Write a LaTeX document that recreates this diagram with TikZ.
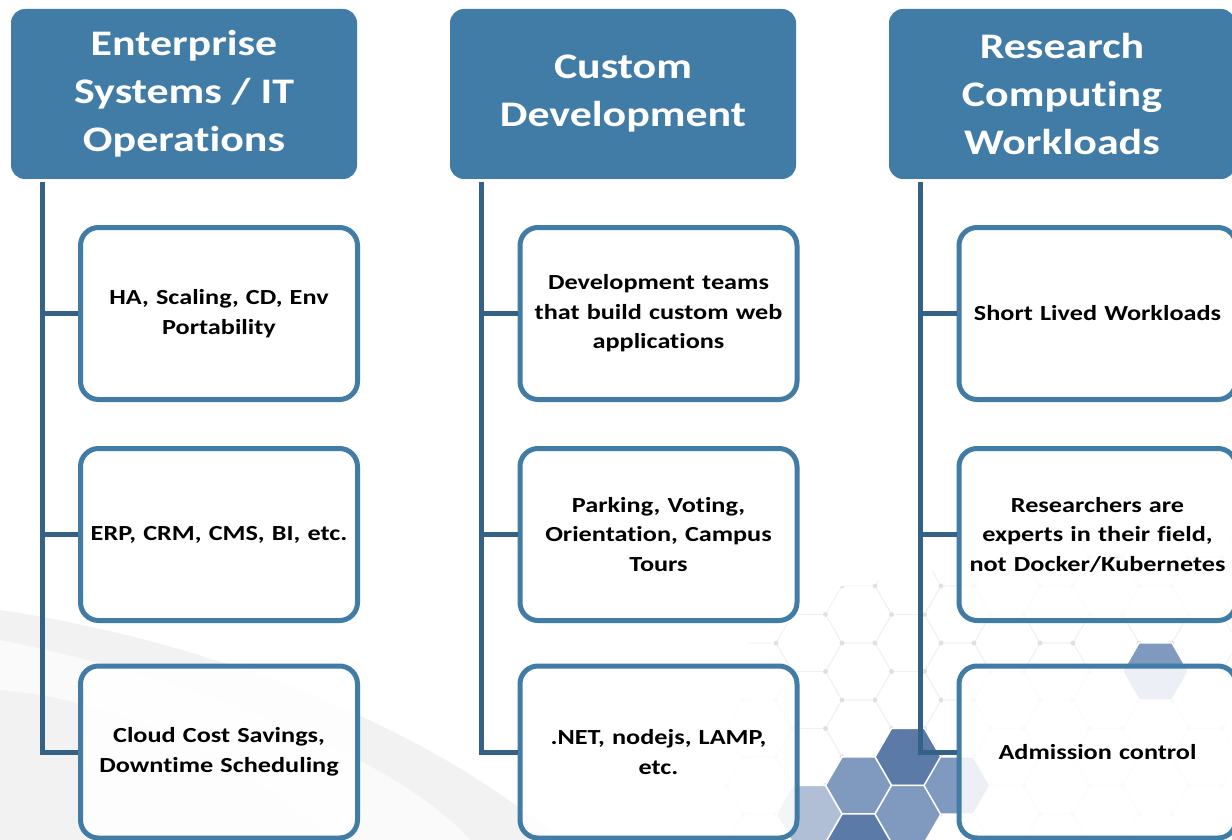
\documentclass[tikz,border=0pt]{standalone}
\usepackage{fontspec}
\setmainfont{Carlito}[FakeStretch=1.22, Ligatures=NoCommon]

\definecolor{headblue}{RGB}{65,124,166}
\definecolor{lineblue}{RGB}{52,98,135}
\definecolor{hexdark}{RGB}{92,122,168}
\definecolor{hexmid}{RGB}{128,153,190}
\definecolor{hexlight}{RGB}{176,191,214}

\tikzset{
  head/.style={fill=headblue, rounded corners=14pt, minimum width=346pt, minimum height=170pt,
    text=white, align=center, font=\bfseries\fontsize{36}{48}\selectfont},
  item/.style={draw=headblue, line width=5pt, fill=white, fill opacity=0.85, text opacity=1,
    rounded corners=18pt, minimum width=277pt, minimum height=172pt, text width=270pt,
    align=center, font=\bfseries\fontsize{21.5}{29.5}\selectfont},
  branch/.style={draw=lineblue, line width=5pt},
  hexline/.style={draw=black!6, line width=0.7pt},
}
% flat-top hexagon around the current point
\newcommand\hexcell{+(0:33) -- +(60:33) -- +(120:33) -- +(180:33) -- +(240:33) -- +(300:33) -- cycle}

\begin{document}
\begin{tikzpicture}[x=1pt, y=-1pt]
	\useasboundingbox (0,0) rectangle (1232,840);
	\fill[white] (0,0) rectangle (1232,840);

	% grey sweep, lower left
	\fill[black!5] (0,610) .. controls (200,640) and (420,720) .. (560,840) -- (0,840) -- cycle;
	\fill[black!2] (0,640) .. controls (200,680) and (400,760) .. (470,840) -- (330,840) .. controls (250,760) and (120,700) .. (0,690) -- cycle;

	% honeycomb, lower right
	\begin{scope}
		\clip (700,840) -- (760,600) -- (1000,560) -- (1232,520) -- (1232,840) -- cycle;
		\foreach \i in {-3,...,6} {
			\foreach \j in {-3,...,3} {
				\path[hexline] (908+49.5*\i, 757-28.5*\i+57*\j) \hexcell;
				\foreach \a in {0,60,...,300}
					\fill[black!12] (908+49.5*\i, 757-28.5*\i+57*\j) ++(\a:33) circle (2.2pt);
			}
		}
	\end{scope}
	\foreach \cx/\cy/\col in {908/757/hexdark, 858.5/785.5/hexmid, 858.5/842.5/hexdark,
		809/814/hexlight, 908/814/hexmid, 957/785.5/hexmid, 1155.5/671.5/hexmid}
		\path[fill=\col, draw=white, line width=1.5pt] (\cx,\cy) \hexcell;

	% column headers
	\node[head] (h1) at (184,94) {Enterprise\\Systems / IT\\Operations};
	\node[head] (h2) at (623,94) {Custom\\Development};
	\node[head] (h3) at (1062,94) {Research\\Computing\\Workloads};

	% items
	\node[item] (a1) at (219,313.5) {HA, Scaling, CD, Env\\Portability};
	\node[item] (a2) at (219,534.5) {ERP, CRM, CMS, BI, etc.};
	\node[item] (a3) at (219,752) {Cloud Cost Savings,\\Downtime Scheduling};
	\node[item] (b1) at (658.5,313.5) {Development teams\\that build custom web\\applications};
	\node[item] (b2) at (658.5,534.5) {Parking, Voting,\\Orientation, Campus\\Tours};
	\node[item] (b3) at (658.5,752) {.NET, nodejs, LAMP,\\etc.};
	\node[item] (c1) at (1097.5,313.5) {Short Lived Workloads};
	\node[item] (c2) at (1097.5,534.5) {Researchers are\\experts in their field,\\not Docker/Kubernetes};
	\node[item] (c3) at (1097.5,752) {Admission control};

	% tree lines
	\foreach \h/\c in {h1/a, h2/b, h3/c} {
		\foreach \k in {1,2,3}
			\draw[branch] ([xshift=32pt, yshift=-3pt]\h.south west) |- (\c\k.west);
	}
\end{tikzpicture}
\end{document}
